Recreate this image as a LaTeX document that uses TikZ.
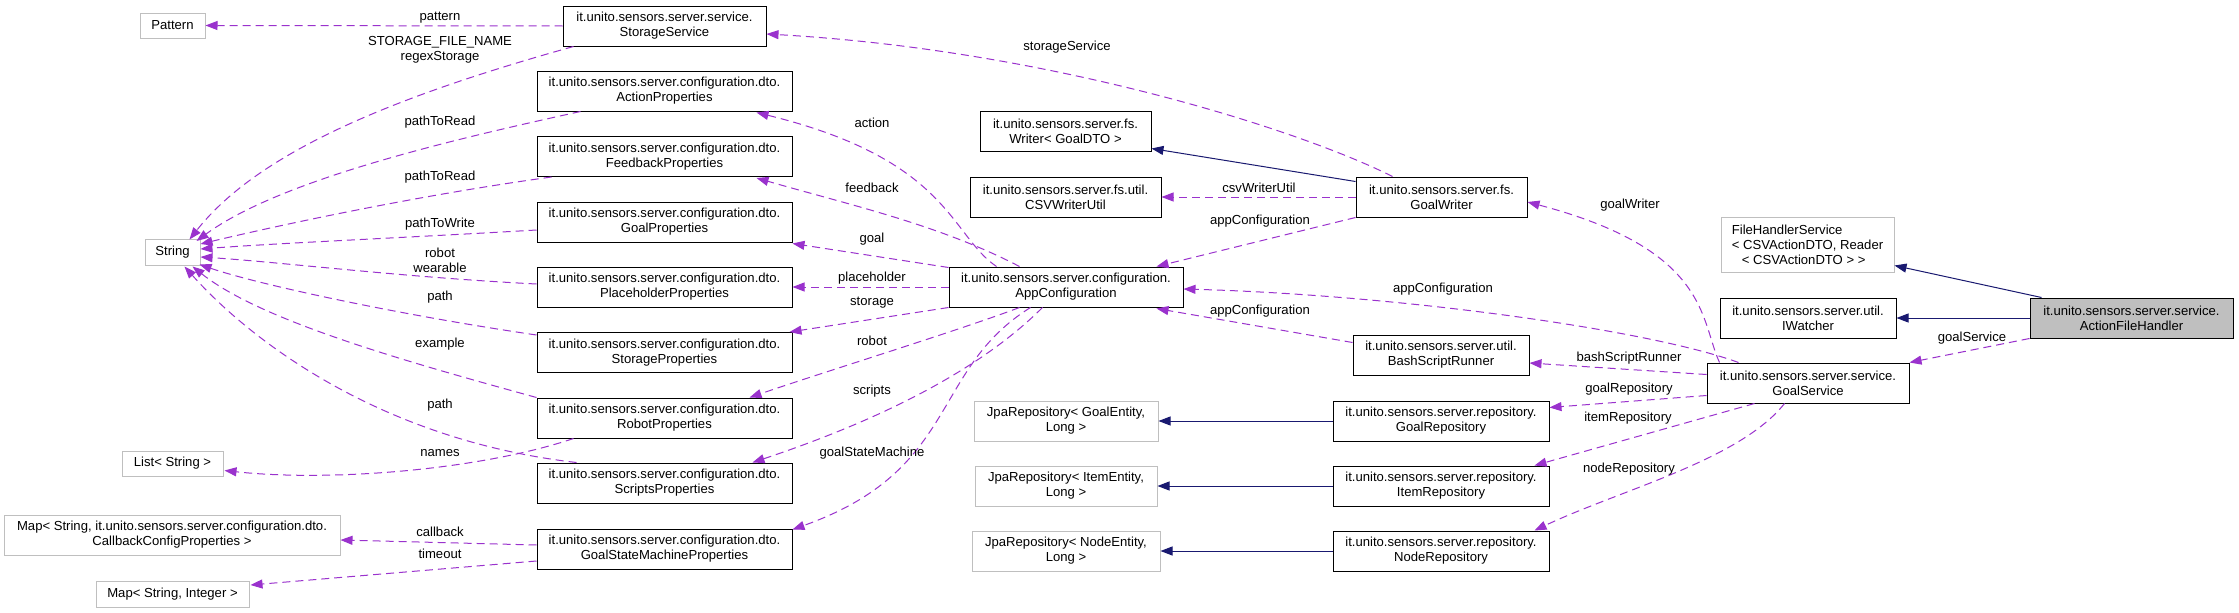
\documentclass[tikz,border=0pt]{standalone}
\usepackage{fontspec}
\setmainfont{Liberation Sans}
\usetikzlibrary{arrows.meta,calc}
\definecolor{dorchid}{HTML}{9A32CD}
\definecolor{mblue}{HTML}{191970}
\definecolor{gbord}{HTML}{BFBFBF}
\begin{document}
\begin{tikzpicture}[x=1pt,y=-1pt,
  every node/.style={font=\fontsize{13.1}{15}\selectfont, inner sep=0pt, align=center},
  cls/.style={draw=black, line width=1pt, minimum height=40},
  ext/.style={draw=gbord, line width=1pt, minimum height=25},
  mainc/.style={cls, fill=gbord},
  uses/.style={color=dorchid, line width=1pt, dash pattern=on 8pt off 5pt, -{Triangle[length=12pt,width=9pt]}},
  inh/.style={color=mblue, line width=1pt, -{Triangle[length=12pt,width=9pt]}},
  lbl/.style={}]
\path[fill=white] (0,0) rectangle (2239,613);
\useasboundingbox (0,0) rectangle (2239,613);

% nodes
\node[ext, minimum width=65] (pattern) at (172.5,25.5) {Pattern};
\node[ext, minimum width=55, minimum height=26] (string) at (172.5,252) {String};
\node[ext, minimum width=101] (list) at (172.5,463.5) {List< String >};
\node[ext, minimum width=336, minimum height=40] (mapcb) at (172,535) {Map< String, it.unito.sensors.server.configuration.dto.\\CallbackConfigProperties >};
\node[ext, minimum width=153, minimum height=26] (mapint) at (172.5,594) {Map< String, Integer >};
\node[cls, minimum width=203] (storage) at (664.5,26) {it.unito.sensors.server.service.\\StorageService};
\node[cls, minimum width=255] (actp) at (664.5,91) {it.unito.sensors.server.configuration.dto.\\ActionProperties};
\node[cls, minimum width=255] (fbp) at (664.5,156.5) {it.unito.sensors.server.configuration.dto.\\FeedbackProperties};
\node[cls, minimum width=255] (goalp) at (664.5,222) {it.unito.sensors.server.configuration.dto.\\GoalProperties};
\node[cls, minimum width=255] (phold) at (664.5,287) {it.unito.sensors.server.configuration.dto.\\PlaceholderProperties};
\node[cls, minimum width=255] (stp) at (664.5,352.5) {it.unito.sensors.server.configuration.dto.\\StorageProperties};
\node[cls, minimum width=255] (robp) at (664.5,418) {it.unito.sensors.server.configuration.dto.\\RobotProperties};
\node[cls, minimum width=255] (scrp) at (664.5,483) {it.unito.sensors.server.configuration.dto.\\ScriptsProperties};
\node[cls, minimum width=255] (gsm) at (664.5,549) {it.unito.sensors.server.configuration.dto.\\GoalStateMachineProperties};
\node[cls, minimum width=234] (appc) at (1066,287) {it.unito.sensors.server.configuration.\\AppConfiguration};
\node[cls, minimum width=171] (writer) at (1065.5,131) {it.unito.sensors.server.fs.\\Writer< GoalDTO >};
\node[cls, minimum width=191] (csvw) at (1065.5,197) {it.unito.sensors.server.fs.util.\\CSVWriterUtil};
\node[ext, minimum width=184, minimum height=40] (jpag) at (1066,421) {JpaRepository< GoalEntity,\\Long >};
\node[ext, minimum width=182, minimum height=40] (jpai) at (1066,486) {JpaRepository< ItemEntity,\\Long >};
\node[ext, minimum width=188, minimum height=40] (jpan) at (1066,551) {JpaRepository< NodeEntity,\\Long >};
\node[cls, minimum width=171] (goalw) at (1441.5,197) {it.unito.sensors.server.fs.\\GoalWriter};
\node[cls, minimum width=176] (bash) at (1441,355) {it.unito.sensors.server.util.\\BashScriptRunner};
\node[cls, minimum width=216] (goalr) at (1441,421) {it.unito.sensors.server.repository.\\GoalRepository};
\node[cls, minimum width=216] (itemr) at (1441,486) {it.unito.sensors.server.repository.\\ItemRepository};
\node[cls, minimum width=216] (noder) at (1441,551) {it.unito.sensors.server.repository.\\NodeRepository};
\node[ext, minimum width=173, minimum height=55, align=left] (fhs) at (1807.5,244.5) {FileHandlerService\\< CSVActionDTO, Reader\\\hspace*{10pt}< CSVActionDTO > >};
\node[cls, minimum width=176] (iw) at (1808,318) {it.unito.sensors.server.util.\\IWatcher};
\node[cls, minimum width=202] (gs) at (1808,383) {it.unito.sensors.server.service.\\GoalService};
\node[mainc, minimum width=203] (afh) at (2131.5,318) {it.unito.sensors.server.service.\\ActionFileHandler};

% StorageService / dto -> String etc.
\draw[uses] (storage.west) -- (pattern.east);
\node[lbl] (l1) at (440,18) {pattern};
\draw[uses] ($(storage.south west)+(11,0)$) .. controls (400,95) and (260,150) .. ($(string.north east)+(-11,1)$);
\node[lbl] (l2) at (440,50) {STORAGE\_FILE\_NAME\\regexStorage};
\draw[uses] ($(actp.south west)+(44,0)$) .. controls (450,140) and (280,180) .. ($(string.east)+(-4,-11)$);
\node[lbl] (l3) at (440,122) {pathToRead};
\draw[uses] ($(fbp.south west)+(15,0)$) .. controls (420,195) and (280,225) .. ($(string.east)+(0,-8)$);
\node[lbl] (l4) at (440,177) {pathToRead};
\draw[uses] ($(goalp.west)+(0,8)$) .. controls (400,238) and (280,243) .. ($(string.east)+(0,-3)$);
\node[lbl] (l5) at (440,224) {pathToWrite};
\draw[uses] ($(phold.west)+(0,-3)$) .. controls (400,277) and (280,262) .. ($(string.east)+(0,5)$);
\node[lbl] (l6) at (440,260) {robot\\wearable};
\draw[uses] ($(stp.north west)+(0,3)$) .. controls (400,315) and (260,285) .. ($(string.south east)+(-1,-1)$);
\node[lbl] (l7) at (440,297) {path};
\draw[uses] (robp.north west) .. controls (400,360) and (260,320) .. ($(string.south east)+(-8,1)$);
\node[lbl] (l8) at (440,344) {example};
\draw[uses] ($(scrp.north west)+(40,0)$) .. controls (380,440) and (250,340) .. ($(string.south east)+(-16,1)$);
\node[lbl] (l9) at (440,405) {path};
\draw[uses] ($(robp.south west)+(37,0)$) .. controls (480,470) and (330,482) .. ($(list.east)+(1,7)$);
\node[lbl] (l10) at (440,453) {names};
\draw[uses] ($(gsm.west)+(0,-4)$) -- ($(mapcb.east)+(0,5)$);
\node[lbl] (l11) at (440,532) {callback};
\draw[uses] ($(gsm.west)+(0,12)$) -- ($(mapint.east)+(1,-9)$);
\node[lbl] (l12) at (440,554) {timeout};

% AppConfiguration -> dto
\draw[uses] ($(appc.north west)+(48,0)$) .. controls (950,235) and (950,160) .. ($(actp.south east)+(-36,1)$);
\node[lbl] (l13) at (872,123) {action};
\draw[uses] ($(appc.north west)+(71,0)$) .. controls (940,225) and (850,205) .. ($(fbp.south east)+(-36,1)$);
\node[lbl] (l14) at (872,188) {feedback};
\draw[uses] ($(appc.north west)+(0,1)$) -- ($(goalp.south east)+(0,1)$);
\node[lbl] (l15) at (872,239) {goal};
\draw[uses] (appc.west) -- (phold.east);
\node[lbl] (l16) at (872,278) {placeholder};
\draw[uses] (appc.south west) -- ($(stp.north east)+(-3,0)$);
\node[lbl] (l17) at (872,303) {storage};
\draw[uses] ($(appc.south west)+(71,0)$) .. controls (960,330) and (830,370) .. ($(robp.north east)+(-43,0)$);
\node[lbl] (l18) at (872,341) {robot};
\draw[uses] ($(appc.south west)+(94,0)$) .. controls (980,370) and (880,420) .. ($(scrp.north east)+(-40,0)$);
\node[lbl] (l19) at (872,391) {scripts};
\draw[uses] ($(appc.south west)+(82,0)$) .. controls (930,370) and (960,470) .. ($(gsm.north east)+(0,1)$);
\node[lbl] (l20) at (872,453) {goalStateMachine};

% GoalWriter
\draw[uses] (goalw.south west) -- ($(appc.north east)+(-27,0)$);
\node[lbl] (l21) at (1260,221) {appConfiguration};
\draw[inh] ($(goalw.north west)+(0,5)$) -- ($(writer.south east)+(0,-3)$);
\draw[uses] (goalw.west) -- (csvw.east);
\node[lbl] (l23) at (1259,188) {csvWriterUtil};
\draw[uses] ($(goalw.north west)+(37,0)$) .. controls (1300,130) and (1050,50) .. ($(storage.east)+(0,8)$);
\node[lbl] (l24) at (1067,47) {storageService};

% BashScriptRunner
\draw[uses] ($(bash.north west)+(0,8)$) -- ($(appc.south east)+(-27,1)$);
\node[lbl] (l25) at (1260,311) {appConfiguration};

% GoalService
\draw[uses] ($(gs.north west)+(32,0)$) .. controls (1650,330) and (1400,295) .. ($(appc.east)+(0,2)$);
\node[lbl] (l26) at (1443,289) {appConfiguration};
\draw[uses] ($(gs.north west)+(13,0)$) .. controls (1700,320) and (1710,250) .. ($(goalw.east)+(0,5)$);
\node[lbl] (l27) at (1630,205) {goalWriter};
\draw[uses] ($(gs.north west)+(0,12)$) -- ($(bash.east)+(0,8)$);
\node[lbl] (l28) at (1629,358) {bashScriptRunner};
\draw[uses] ($(gs.south west)+(0,-8)$) -- ($(goalr.north east)+(0,7)$);
\node[lbl] (l29) at (1629,389) {goalRepository};
\draw[uses] ($(gs.south west)+(48,0)$) -- ($(itemr.north east)+(-15,0)$);
\node[lbl] (l30) at (1628,418) {itemRepository};
\draw[uses] ($(gs.south west)+(78,0)$) .. controls (1740,460) and (1620,490) .. ($(noder.north east)+(-15,0)$);
\node[lbl] (l31) at (1629,469) {nodeRepository};

% repositories inheritance
\draw[inh] (goalr.west) -- (jpag.east);
\draw[inh] (itemr.west) -- (jpai.east);
\draw[inh] (noder.west) -- (jpan.east);

% ActionFileHandler
\draw[inh] ($(afh.north west)+(12,0)$) -- ($(fhs.south east)+(0,-7)$);
\draw[inh] (afh.west) -- (iw.east);
\draw[uses] (afh.south west) -- (gs.north east);
\node[lbl] (l37) at (1972,338) {goalService};
\end{tikzpicture}
\end{document}
